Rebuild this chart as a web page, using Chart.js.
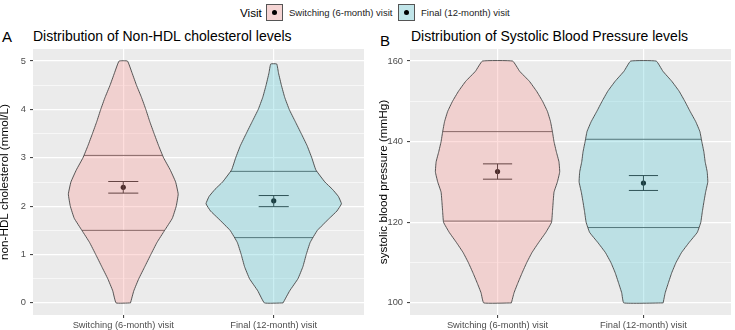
<!DOCTYPE html>
<html>
<head>
<meta charset="utf-8">
<script src="https://cdn.jsdelivr.net/npm/chart.js@4.4.1/dist/chart.umd.min.js"></script>
<style>
  body { margin: 0; background: #fff; font-family: "Liberation Sans", Arial, sans-serif; }
  #wrap { position: relative; width: 735px; height: 330px; overflow: hidden; }
  #wrap canvas { position: absolute; top: 0; }
  .txt { position: absolute; white-space: nowrap; line-height: 1; color: #000; }
  .key { position: absolute; top: 4px; width: 17px; height: 17px; box-sizing: border-box; border: 1px solid #555; }
  .key i { position: absolute; left: 5px; top: 5px; width: 5px; height: 5px; border-radius: 50%; background: #000; }
</style>
</head>
<body>
<div id="wrap">
  <!-- legend -->
  <div class="txt" style="left:240px; top:7px; font-size:11.7px;">Visit</div>
  <div class="key" style="left:266px; background:linear-gradient(rgba(252,145,142,0.3),rgba(252,145,142,0.3)),#F2F2F2;"><i></i></div>
  <div class="txt" style="left:289px; top:8px; font-size:9.5px; color:#222;">Switching (6-month) visit</div>
  <div class="key" style="left:398px; background:linear-gradient(rgba(78,198,212,0.3),rgba(78,198,212,0.3)),#F2F2F2;"><i></i></div>
  <div class="txt" style="left:421px; top:8px; font-size:9.5px; color:#222;">Final (12-month) visit</div>
  <!-- panel tags and titles -->
  <div class="txt" style="left:2px; top:29px; font-size:15px;">A</div>
  <div class="txt" style="left:33px; top:29px; font-size:14px;">Distribution of Non-HDL cholesterol levels</div>
  <div class="txt" style="left:380px; top:33px; font-size:15px;">B</div>
  <div class="txt" style="left:411px; top:29px; font-size:14px;">Distribution of Systolic Blood Pressure levels</div>
  <canvas id="chartA" width="368" height="330" style="left:0px;"></canvas>
  <canvas id="chartB" width="367" height="330" style="left:368px;"></canvas>
</div>
<script>
var categories = ['Switching (6-month) visit', 'Final (12-month) visit'];

// A: non-HDL cholesterol (mmol/L)
var cholTicks = [0, 1, 2, 3, 4, 5];
var cholSwitchY = [0, 0.25, 0.5, 0.75, 1, 1.25, 1.5, 1.75, 2, 2.25, 2.5, 2.75, 3, 3.25, 3.5, 3.75, 4, 4.25, 4.5, 4.75, 5];
var cholSwitchDensity = [0.048, 0.070, 0.103, 0.143, 0.183, 0.224, 0.275, 0.326, 0.352, 0.365, 0.348, 0.312, 0.268, 0.235, 0.205, 0.176, 0.150, 0.121, 0.088, 0.059, 0.028];
var cholFinalY = [0, 0.25, 0.5, 0.75, 1, 1.25, 1.5, 1.75, 1.9, 2.05, 2.2, 2.35, 2.5, 2.75, 3, 3.25, 3.5, 3.75, 4, 4.25, 4.5, 4.75, 4.94];
var cholFinalDensity = [0.062, 0.106, 0.161, 0.194, 0.216, 0.242, 0.290, 0.370, 0.420, 0.450, 0.430, 0.390, 0.340, 0.280, 0.253, 0.222, 0.183, 0.143, 0.103, 0.073, 0.051, 0.032, 0.020];
var cholQuartiles = [[1.50, 3.05], [1.35, 2.72]];
var cholMean = [2.39, 2.11];
var cholLow = [2.27, 1.99];
var cholHigh = [2.51, 2.22];

// B: systolic blood pressure (mmHg)
var sbpTicks = [100, 120, 140, 160];
var sbpY = [100, 102.5, 105, 107.5, 110, 112.5, 115, 117.5, 120, 122.5, 125, 127.5, 130, 132.5, 135, 137.5, 140, 142.5, 145, 147.5, 150, 152.5, 155, 157.5, 160];
var sbpSwitchDensity = [0.095, 0.113, 0.140, 0.169, 0.200, 0.236, 0.282, 0.331, 0.370, 0.376, 0.381, 0.387, 0.410, 0.426, 0.421, 0.403, 0.387, 0.376, 0.363, 0.342, 0.309, 0.268, 0.218, 0.151, 0.104];
var sbpFinalDensity = [0.135, 0.149, 0.171, 0.194, 0.223, 0.261, 0.313, 0.369, 0.393, 0.403, 0.414, 0.426, 0.441, 0.437, 0.423, 0.414, 0.400, 0.387, 0.358, 0.320, 0.284, 0.245, 0.194, 0.133, 0.088];
var sbpQuartiles = [[120.3, 142.5], [118.7, 140.6]];
var sbpMean = [132.6, 129.75];
var sbpLow = [130.7, 127.9];
var sbpHigh = [134.5, 131.6];

var FONT = '"Liberation Sans", Arial, sans-serif';
var fillColors = ['rgba(252,145,142,0.3)', 'rgba(78,198,212,0.3)'];
var outline = '#444';
var capHalf = 0.1; // errorbar width 0.2

// grey panel behind the grid
var panelBg = {
    id: 'panelBg',
    beforeDraw: function (chart) {
        var a = chart.chartArea, ctx = chart.ctx;
        ctx.save();
        ctx.fillStyle = '#EBEBEB';
        ctx.fillRect(a.left, a.top, a.right - a.left, a.bottom - a.top);
        ctx.restore();
    }
};

function widthAt(ys, ws, q) { // linear lookup of the violin half width
    for (var i = 1; i < ys.length; i++) {
        if (q <= ys[i]) {
            var t = (q - ys[i - 1]) / (ys[i] - ys[i - 1]);
            return ws[i - 1] + t * (ws[i] - ws[i - 1]);
        }
    }
    return ws[ws.length - 1];
}

function lineSet(points, color, width) {
    return { data: points, borderColor: color, borderWidth: width, pointRadius: 0, fill: false, tension: 0 };
}

function buildPanel(id, p) {
    var datasets = [];
    p.violins.forEach(function (v, i) {
        var cat = i + 1;
        var pts = v.y.map(function (y, k) { return { x: cat + v.w[k], y: y }; });
        for (var k = v.y.length - 1; k >= 0; k--) pts.push({ x: cat - v.w[k], y: v.y[k] });
        pts.push(pts[0]);
        // small tension: smoother outline and avoids the fast path (which assumes x is monotone)
        datasets.push({ data: pts, borderColor: outline, borderWidth: 0.9, backgroundColor: fillColors[i],
            fill: 'shape', pointRadius: 0, tension: 0.1, borderJoinStyle: 'round' });
        p.quartiles[i].forEach(function (q) {
            var w = widthAt(v.y, v.w, q);
            datasets.push(lineSet([{ x: cat - w, y: q }, { x: cat + w, y: q }], outline, 0.9));
        });
    });
    p.mean.forEach(function (m, i) {
        var cat = i + 1;
        datasets.push(lineSet([{ x: cat, y: p.low[i] }, { x: cat, y: p.high[i] }], '#222', 1));
        datasets.push(lineSet([{ x: cat - capHalf, y: p.low[i] }, { x: cat + capHalf, y: p.low[i] }], '#222', 1));
        datasets.push(lineSet([{ x: cat - capHalf, y: p.high[i] }, { x: cat + capHalf, y: p.high[i] }], '#222', 1));
    });
    datasets.push({ data: p.mean.map(function (m, i) { return { x: i + 1, y: m }; }), showLine: false,
        pointRadius: 2.6, pointBackgroundColor: '#000', pointBorderWidth: 0 });

    var step = p.ticks[1] - p.ticks[0];
    var lo = p.ticks[0], hi = p.ticks[p.ticks.length - 1];
    var pad = (hi - lo) * 0.05;
    var grid = [];
    for (var g = lo; g <= hi + 1e-9; g += step / 2) grid.push(+g.toFixed(4));
    var isMajor = function (v) { return p.ticks.indexOf(v) >= 0; };

    return new Chart(document.getElementById(id), {
        type: 'line',
        data: { datasets: datasets },
        options: {
            responsive: false,
            animation: false,
            events: [],
            layout: { padding: { top: 49, right: p.padRight, bottom: 0, left: 0 } },
            plugins: { legend: { display: false }, tooltip: { enabled: false } },
            scales: {
                x: {
                    type: 'linear', min: 0.4, max: 2.6,
                    afterBuildTicks: function (s) { s.ticks = categories.map(function (c, i) { return { value: i + 1 }; }); },
                    afterFit: function (s) { s.height = 15; },
                    border: { display: false },
                    grid: { color: '#fff', lineWidth: 1.2, tickLength: 3, tickColor: '#333', tickWidth: 1 },
                    ticks: { callback: function (v) { return categories[v - 1]; }, color: '#4D4D4D',
                        font: { family: FONT, size: 9.3 }, padding: 1.5, maxRotation: 0, autoSkip: false }
                },
                y: {
                    type: 'linear', min: lo - pad, max: hi + pad,
                    afterBuildTicks: function (s) { s.ticks = grid.map(function (v) { return { value: v }; }); },
                    afterFit: function (s) { s.width = p.axisWidth; },
                    border: { display: false },
                    grid: {
                        color: '#fff',
                        lineWidth: function (c) { return isMajor(c.tick.value) ? 1.2 : 0.6; },
                        tickLength: 3,
                        tickWidth: 1,
                        tickColor: function (c) { return isMajor(c.tick.value) ? '#333' : 'rgba(0,0,0,0)'; }
                    },
                    ticks: { callback: function (v) { return isMajor(v) ? String(v) : ''; }, color: '#4D4D4D',
                        font: { family: FONT, size: 9.3 }, padding: 4, autoSkip: false },
                    title: { display: true, text: p.yTitle, color: '#000',
                        font: { family: FONT, size: 11.7, lineHeight: 0.8 },
                        padding: { top: p.titleOffset, bottom: 0 } }
                }
            }
        },
        plugins: [panelBg]
    });
}

buildPanel('chartA', {
    violins: [{ y: cholSwitchY, w: cholSwitchDensity }, { y: cholFinalY, w: cholFinalDensity }],
    quartiles: cholQuartiles, mean: cholMean, low: cholLow, high: cholHigh,
    ticks: cholTicks, yTitle: 'non-HDL cholesterol (mmol/L)',
    axisWidth: 33, titleOffset: 0.5, padRight: 1
});

buildPanel('chartB', {
    violins: [{ y: sbpY, w: sbpSwitchDensity }, { y: sbpY, w: sbpFinalDensity }],
    quartiles: sbpQuartiles, mean: sbpMean, low: sbpLow, high: sbpHigh,
    ticks: sbpTicks, yTitle: 'systolic blood pressure (mmHg)',
    axisWidth: 42, titleOffset: 11, padRight: 0
});
</script>
</body>
</html>
